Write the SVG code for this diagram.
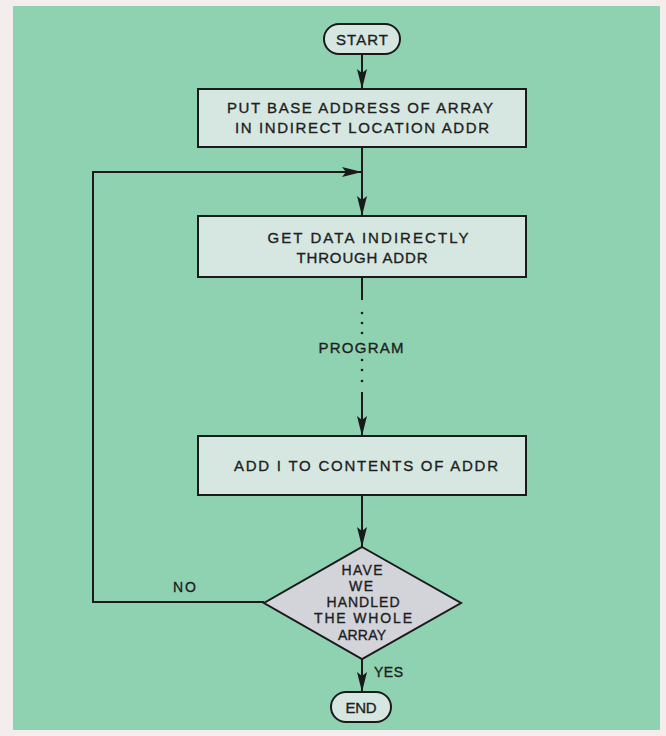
<svg xmlns="http://www.w3.org/2000/svg" width="666" height="736" viewBox="0 0 666 736">
<defs>
<style>
.box{fill:#d5e7e0;stroke:#1a1a1a;stroke-width:2}
.dia{fill:#d3d3da;stroke:#1a1a1a;stroke-width:2}
.term{fill:#d5e7e0;stroke:#1a1a1a;stroke-width:2}
.ln{fill:none;stroke:#1a1a1a;stroke-width:2}
.t{font-family:"Liberation Sans",Arial,sans-serif;font-size:15px;fill:#1e1e1e;stroke:#1e1e1e;stroke-width:0.35;text-anchor:middle}
.d{font-family:"Liberation Sans",Arial,sans-serif;font-size:14px;fill:#1e1e1e;stroke:#1e1e1e;stroke-width:0.35;text-anchor:middle}
.l{font-family:"Liberation Sans",Arial,sans-serif;font-size:14px;fill:#1e1e1e;stroke:#1e1e1e;stroke-width:0.35}
</style>
<marker id="ah" markerUnits="userSpaceOnUse" markerWidth="20" markerHeight="10" refX="20" refY="5" orient="auto">
<path d="M0,0 L20,5 L0,10 L4,5 z" fill="#1a1a1a"/>
</marker>
</defs>
<rect x="0" y="0" width="666" height="736" fill="#f3eded"/>
<rect x="13" y="6" width="647" height="724" fill="#8fd2b2"/>
<g id="connectors">
<line class="ln" x1="362" y1="54" x2="362" y2="89" marker-end="url(#ah)"/>
<line class="ln" x1="362" y1="147" x2="362" y2="216" marker-end="url(#ah)"/>
<line class="ln" x1="362" y1="277" x2="362" y2="300"/>
<g fill="#1a1a1a">
<circle cx="362" cy="313" r="1.3"/>
<circle cx="362" cy="323" r="1.3"/>
<circle cx="362" cy="333" r="1.3"/>
<circle cx="362" cy="360" r="1.3"/>
<circle cx="362" cy="370" r="1.3"/>
<circle cx="362" cy="381" r="1.3"/>
</g>
<line class="ln" x1="362" y1="392" x2="362" y2="436" marker-end="url(#ah)"/>
<line class="ln" x1="362" y1="495" x2="362" y2="547" marker-end="url(#ah)"/>
<line class="ln" x1="362" y1="659" x2="362" y2="692" marker-end="url(#ah)"/>
<polyline class="ln" points="264,602 93,602 93,172 362,172" marker-end="url(#ah)"/>
<text class="t" x="361" y="353" textLength="85" lengthAdjust="spacing">PROGRAM</text>
<text class="l" x="173" y="592" textLength="23" lengthAdjust="spacing">NO</text>
<text class="l" x="374" y="677" textLength="29" lengthAdjust="spacing">YES</text>
</g>
<g id="start">
<rect class="term" x="324" y="24" width="76" height="30" rx="15"/>
<text class="t" x="362" y="44.5" textLength="52" lengthAdjust="spacing">START</text>
</g>
<g id="put-base">
<rect class="box" x="198" y="89" width="328" height="58"/>
<text class="t" x="360" y="112.5" textLength="266" lengthAdjust="spacing">PUT BASE ADDRESS OF ARRAY</text>
<text class="t" x="362" y="132.5" textLength="254" lengthAdjust="spacing">IN INDIRECT LOCATION ADDR</text>
</g>
<g id="get-data">
<rect class="box" x="198" y="216" width="328" height="61"/>
<text class="t" x="368" y="243" textLength="201" lengthAdjust="spacing">GET DATA INDIRECTLY</text>
<text class="t" x="362" y="263" textLength="131" lengthAdjust="spacing">THROUGH ADDR</text>
</g>
<g id="add-one">
<rect class="box" x="198" y="436" width="328" height="59"/>
<text class="t" x="366" y="471" textLength="264" lengthAdjust="spacing">ADD I TO CONTENTS OF ADDR</text>
</g>
<g id="decision">
<polygon class="dia" points="362,547 461,603 362,659 264,603"/>
<text class="d" x="362" y="575" textLength="41" lengthAdjust="spacing">HAVE</text>
<text class="d" x="361" y="591" textLength="24" lengthAdjust="spacing">WE</text>
<text class="d" x="363" y="607" textLength="73" lengthAdjust="spacing">HANDLED</text>
<text class="d" x="363" y="623" textLength="98" lengthAdjust="spacing">THE WHOLE</text>
<text class="d" x="362" y="640" textLength="48" lengthAdjust="spacing">ARRAY</text>
</g>
<g id="end">
<rect class="term" x="331" y="692" width="60" height="30" rx="15"/>
<text class="t" x="361" y="712.5" textLength="31" lengthAdjust="spacing">END</text>
</g>
</svg>
